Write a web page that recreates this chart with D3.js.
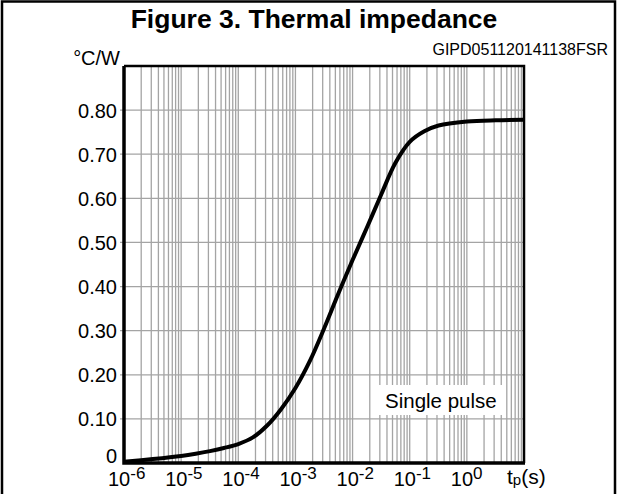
<!DOCTYPE html>
<html>
<head>
<meta charset="utf-8">
<script src="https://cdn.jsdelivr.net/npm/d3@7/dist/d3.min.js"></script>
<style>
    body { margin: 0; background: #fff; }
    text { font-family: "Liberation Sans", Arial, sans-serif; fill: #000; }
</style>
</head>
<body>
<div id="chart"></div>
<script>
// pulse duration (s) and thermal impedance (°C/W)
const pulseTimes = [1e-6, 3.2e-6, 1e-5, 1.8e-5, 3.2e-5, 5.6e-5, 1e-4, 1.8e-4, 3.2e-4, 5.6e-4, 1e-3, 1.8e-3, 3.2e-3, 5.6e-3, 1e-2, 1.8e-2, 3.2e-2, 5.6e-2, 0.1, 0.18, 0.32, 1, 3.2, 10];
const impedance = [0.003, 0.009, 0.016, 0.021, 0.027, 0.034, 0.043, 0.058, 0.085, 0.122, 0.17, 0.232, 0.306, 0.383, 0.46, 0.535, 0.61, 0.68, 0.728, 0.752, 0.765, 0.774, 0.777, 0.778];

const yTicks = [0, 0.1, 0.2, 0.3, 0.4, 0.5, 0.6, 0.7, 0.8];
const yTickLabels = ['0', '0.10', '0.20', '0.30', '0.40', '0.50', '0.60', '0.70', '0.80'];
const xDecades = [-6, -5, -4, -3, -2, -1, 0];

const width = 621, height = 494;
const plot = { left: 124, right: 524, top: 66, bottom: 463 };

const svg = d3.select('#chart').append('svg')
    .attr('width', width)
    .attr('height', height);

const x = d3.scaleLog()
    .domain([1e-6, 10])
    .range([plot.left, plot.right]);

const y = d3.scaleLinear()
    .domain([0, 0.9])
    .range([plot.bottom, plot.top]);

// outer frame
svg.append('path')
    .attr('d', `M2,${height + 5}V1.5H615V${height + 5}`)
    .attr('fill', 'none')
    .attr('stroke', '#000')
    .attr('stroke-width', 2.5);

// title and figure code
svg.append('text')
    .attr('x', 314).attr('y', 28)
    .attr('text-anchor', 'middle')
    .style('font-size', '26.5px')
    .style('font-weight', 'bold')
    .text('Figure 3. Thermal impedance');

svg.append('text')
    .attr('x', 608).attr('y', 55)
    .attr('text-anchor', 'end')
    .style('font-size', '16px')
    .text('GIPD051120141138FSR');

svg.append('text')
    .attr('x', 120).attr('y', 65)
    .attr('text-anchor', 'end')
    .style('font-size', '20px')
    .text('°C/W');

// vertical grid: 1..9 per decade
const minorTicks = [];
xDecades.forEach(d => {
    for (let k = 1; k <= 9; k++) {
        const v = k * Math.pow(10, d);
        if (v > 1e-6) minorTicks.push(v);
    }
});

const grid = svg.append('g')
    .attr('stroke', '#a4a4a4')
    .attr('stroke-width', 1.3);

grid.selectAll('.vgrid')
    .data(minorTicks)
    .enter().append('line')
    .attr('x1', d => x(d)).attr('x2', d => x(d))
    .attr('y1', plot.top).attr('y2', plot.bottom);

grid.selectAll('.hgrid')
    .data(yTicks.slice(1))
    .enter().append('line')
    .attr('x1', plot.left - 4).attr('x2', plot.right)
    .attr('y1', d => y(d)).attr('y2', d => y(d));

// y labels
svg.selectAll('.ylab')
    .data(yTicks)
    .enter().append('text')
    .attr('x', 117)
    .attr('y', d => d === 0 ? y(d) : y(d) + 7.5)
    .attr('text-anchor', 'end')
    .style('font-size', '20px')
    .text((d, i) => yTickLabels[i]);

// x labels as powers of ten
const xl = svg.selectAll('.xlab')
    .data(xDecades)
    .enter().append('text')
    .attr('x', d => x(Math.pow(10, d)) - 16)
    .attr('y', 486)
    .style('font-size', '20px');
xl.append('tspan').text('10');
xl.append('tspan')
    .attr('dy', -7)
    .style('font-size', '17px')
    .text(d => d);

const unit = svg.append('text')
    .attr('x', 507).attr('y', 484)
    .style('font-size', '21px');
unit.append('tspan').text('t');
unit.append('tspan').style('font-size', '15px').attr('dy', 1).text('p');
unit.append('tspan').attr('dy', -1).text('(s)');

// legend box
svg.append('rect')
    .attr('x', 376).attr('y', 385)
    .attr('width', 126).attr('height', 30)
    .attr('fill', '#fff');

svg.append('text')
    .attr('x', 385).attr('y', 408)
    .style('font-size', '20.5px')
    .text('Single pulse');

// curve
svg.append('path')
    .datum(pulseTimes.map((t, i) => [t, impedance[i]]))
    .attr('fill', 'none')
    .attr('stroke', '#000')
    .attr('stroke-width', 4)
    .attr('d', d3.line()
        .x(d => x(d[0]))
        .y(d => y(d[1]))
        .curve(d3.curveCatmullRom)
    );

// plot border: thicker left and bottom axes
svg.append('path')
    .attr('d', `M${plot.left},${plot.top}H${plot.right}V${plot.bottom}`)
    .attr('fill', 'none')
    .attr('stroke', '#000')
    .attr('stroke-width', 2.5);

svg.append('path')
    .attr('d', `M${plot.left},${plot.top}V${plot.bottom}H${plot.right + 1}`)
    .attr('fill', 'none')
    .attr('stroke', '#000')
    .attr('stroke-width', 3.5);
</script>
</body>
</html>
